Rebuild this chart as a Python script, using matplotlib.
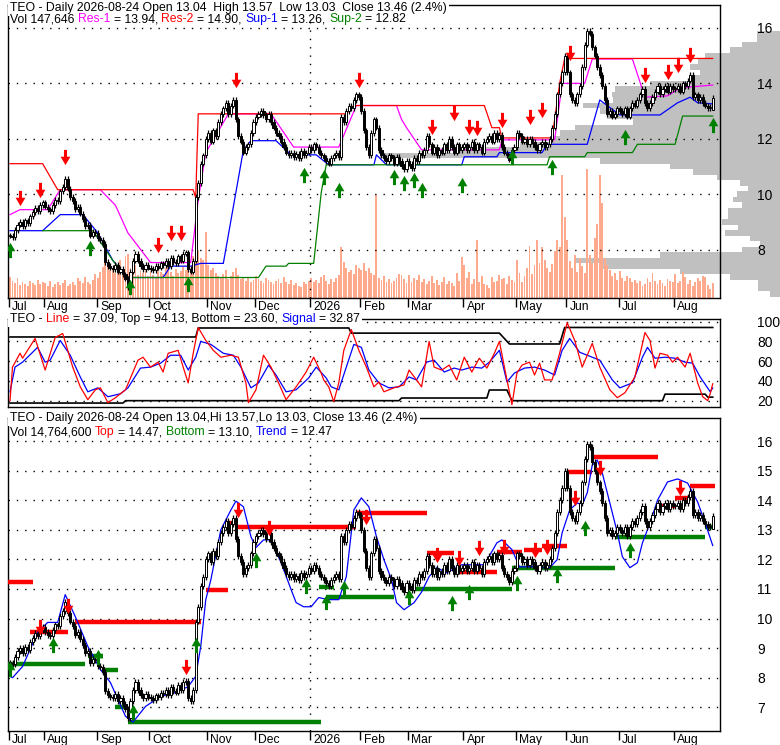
import numpy as np
import pandas as pd
import matplotlib
matplotlib.use("Agg")
import matplotlib.pyplot as plt
from matplotlib.path import Path
from matplotlib.transforms import ScaledTranslation

plt.rcParams['font.family'] = ['Liberation Sans', 'DejaVu Sans']

# ---- daily closes, one list per month ----
jul25 = [8.50, 8.45, 8.70, 8.90, 9.00, 8.85, 9.05, 8.95, 9.20, 9.35, 9.50, 9.40, 9.60, 9.70]
aug25 = [9.55, 9.45, 9.40, 9.60, 9.80, 9.75, 10.10, 10.25, 10.55, 10.20, 9.90, 9.75, 9.45, 9.55,
         9.30, 9.10, 8.85, 8.90, 8.50, 8.65, 8.60]
sep25 = [8.40, 8.35, 8.20, 7.55, 7.40, 7.35, 7.30, 7.45, 7.20, 7.30, 7.10, 6.95, 6.65, 7.20,
         7.60, 7.85, 7.60, 7.40, 7.30, 7.45, 7.35]
oct25 = [7.30, 7.25, 7.40, 7.35, 7.50, 7.45, 7.60, 7.40, 7.70, 7.55, 7.50, 7.75, 7.60, 7.85,
         7.90, 7.30, 7.20, 7.60, 9.90, 10.40, 11.10, 11.40, 12.00]
nov25 = [12.20, 11.90, 12.30, 12.10, 12.60, 12.90, 13.10, 13.30, 12.90, 13.20, 13.40, 12.70,
         12.10, 11.90, 11.50, 11.70, 11.80, 12.20, 12.60]
dec25 = [12.80, 12.90, 13.00, 12.85, 12.70, 12.90, 12.60, 12.40, 12.20, 12.10, 11.90, 11.70,
         11.50, 11.40, 11.50, 11.35, 11.45, 11.30, 11.55, 11.40, 11.50, 11.70]
jan26 = [11.60, 11.80, 11.70, 11.50, 11.40, 11.30, 11.20, 11.10, 11.30, 11.40, 11.50, 11.35,
         12.80, 12.60, 13.00, 13.20, 13.10, 13.40, 13.60, 13.50]
feb26 = [13.00, 12.30, 11.70, 11.40, 12.20, 12.70, 12.40, 11.60, 11.40, 11.30, 11.20, 11.40,
         11.30, 11.10, 11.35, 11.20, 11.00, 10.90, 11.20]
mar26 = [11.10, 10.95, 11.30, 11.20, 11.50, 11.40, 11.60, 12.10, 11.80, 11.50, 11.70, 11.40,
         11.60, 11.50, 11.80, 11.60, 12.00, 11.70, 11.50, 11.80, 11.60, 11.70]
apr26 = [11.80, 11.60, 11.70, 11.90, 11.60, 11.80, 11.70, 11.50, 11.90, 12.00, 12.10, 11.90,
         12.20, 12.00, 12.15, 11.70, 11.50, 11.40, 11.25, 11.60, 11.70]
may26 = [12.20, 12.10, 11.90, 12.00, 11.80, 12.00, 11.90, 11.70, 11.60, 11.80, 11.90, 11.70,
         11.80, 12.00, 12.40, 12.90, 13.60, 14.00, 14.40, 15.00]
jun26 = [14.40, 13.60, 13.40, 13.30, 13.60, 13.90, 14.60, 15.40, 15.90, 15.80, 15.30, 15.00,
         14.60, 14.30, 13.90, 13.40, 12.90, 13.00, 12.80, 12.90, 13.10]
jul26 = [13.00, 12.90, 13.10, 12.80, 13.10, 13.30, 13.20, 13.40, 13.60, 13.80, 13.30, 13.10,
         13.30, 13.50, 13.70, 13.90, 13.60, 13.80, 13.90, 13.70, 13.90, 13.80]
aug26 = [13.80, 13.90, 13.70, 14.00, 13.90, 14.10, 14.30, 13.50, 13.60, 13.40, 13.50, 13.30,
         13.20, 13.10, 13.14, 13.46]
last_open, last_high, last_low = 13.04, 13.57, 13.03
wick = 0.1

# ---- daily volume (thousand shares) ----
vol_jul25 = [210, 170, 150, 200, 130, 160, 140, 120, 170, 150, 130, 180, 140, 160]
vol_aug25 = [150, 120, 170, 110, 140, 160, 130, 150, 180, 120, 140, 160, 130, 200, 170, 150, 210,
             160, 140, 180, 240]
vol_sep25 = [200, 260, 310, 450, 350, 280, 300, 250, 330, 380, 290, 420, 440, 300, 260, 330, 230,
             280, 250, 310, 220]
vol_oct25 = [270, 230, 210, 280, 260, 240, 300, 350, 260, 220, 290, 250, 270, 310, 280, 360, 300,
             420, 680, 480, 400, 380, 660]
vol_nov25 = [330, 280, 300, 250, 220, 200, 240, 280, 190, 220, 260, 300, 230, 190, 210, 170, 200,
             160, 180]
vol_dec25 = [220, 190, 170, 150, 200, 180, 160, 140, 170, 190, 150, 210, 160, 140, 180, 130, 150,
             120, 110, 160, 140, 170]
vol_jan26 = [200, 160, 180, 150, 210, 230, 170, 140, 190, 160, 200, 230, 510, 360, 300, 260, 280,
             240, 330, 300]
vol_feb26 = [280, 350, 270, 300, 250, 230, 1030, 200, 180, 220, 160, 190, 150, 170, 200, 240, 230,
             190, 150]
vol_mar26 = [230, 160, 200, 180, 230, 160, 190, 140, 170, 220, 150, 180, 130, 160, 210, 140, 170,
             150, 120, 250, 170, 410]
vol_apr26 = [330, 200, 260, 140, 190, 580, 160, 220, 140, 130, 100, 210, 160, 170, 230, 190, 200,
             140, 220, 180, 160]
vol_may26 = [380, 250, 160, 220, 300, 520, 240, 330, 580, 350, 510, 380, 300, 260, 340, 470, 580,
             510, 1230, 810]
vol_jun26 = [580, 370, 300, 430, 260, 400, 320, 250, 1290, 430, 350, 600, 740, 1230, 950, 400, 330,
             280, 220, 250, 180]
vol_jul26 = [270, 200, 170, 220, 200, 160, 180, 150, 170, 120, 140, 200, 160, 250, 170, 140, 180,
             150, 120, 190, 170, 160]
vol_aug26 = [240, 150, 170, 260, 210, 140, 180, 120, 160, 200, 170, 220, 210, 130, 90, 150]

# ---- volume at price profile ----
prof_price = [6.4, 6.6, 6.8, 7.0, 7.2, 7.4, 7.6, 7.8, 8.0, 8.2, 8.4, 8.6, 8.8, 9.0, 9.2, 9.4, 9.6,
              9.8, 10.0, 10.2, 10.4, 10.6, 10.8, 11.0, 11.2, 11.4, 11.6, 11.8, 12.0, 12.2, 12.4,
              12.6, 12.8, 13.0, 13.2, 13.4, 13.6, 13.8, 14.0, 14.2, 14.4, 14.6, 14.8, 15.0, 15.2,
              15.4, 15.6, 15.8]
prof_vol = [10, 22, 22, 50, 100, 180, 205, 120, 38, 20, 30, 55, 42, 58, 52, 52, 38, 47, 43, 32,
            40, 63, 87, 110, 180, 400, 320, 260, 230, 220, 205, 147, 173, 180, 197, 167, 168, 165,
            130, 87, 80, 90, 82, 75, 50, 38, 23, 23]

# ---- support / resistance lines (bar index, price) ----
res1_x = [0, 4, 15, 20, 36, 42, 47, 56, 72, 75, 78, 87, 104, 113, 131, 138, 154, 156, 158, 164,
          195, 196, 217, 220, 229, 232, 248, 253, 262, 267, 280]
res1_y = [9.26, 9.44, 9.44, 10.16, 10.16, 9.6, 8.6, 7.53, 7.53, 9.8, 11.5, 12.9, 12.9, 11.7, 11.7,
          13.2, 13.2, 12.7, 12.4, 11.6, 11.6, 11.96, 11.96, 14.0, 14.0, 14.88, 14.88, 13.5, 13.55,
          13.84, 13.94]
res2_x = [0, 13, 19, 73, 74, 75, 134, 137, 189, 192, 195, 196, 216, 219, 221, 280]
res2_y = [11.1, 11.1, 10.16, 10.16, 9.87, 12.9, 12.9, 13.2, 13.2, 12.4, 12.4, 12.03, 12.03, 14.0,
          14.9, 14.9]
sup1_x = [0, 13, 20, 29, 35, 41, 47, 61, 64, 72, 76, 85, 93, 96, 106, 112, 122, 127, 145, 146,
          150, 180, 181, 194, 195, 212, 214, 230, 235, 243, 259, 266, 271, 274, 280]
sup1_y = [8.68, 8.68, 9.26, 9.26, 8.6, 7.6, 6.99, 6.99, 7.4, 7.4, 7.5, 7.5, 11.6, 11.93, 11.93,
          11.42, 11.42, 11.06, 11.06, 11.42, 11.06, 11.06, 11.35, 11.35, 11.5, 11.5, 11.8, 11.8,
          13.4, 12.86, 12.86, 13.3, 13.5, 13.3, 13.26]
sup2_x = [13, 33, 41, 47, 99, 102, 110, 111, 121, 124, 126, 214, 215, 229, 230, 248, 250, 265,
          268, 280]
sup2_y = [8.68, 8.68, 7.6, 6.99, 6.99, 7.4, 7.4, 7.5, 7.5, 10.05, 11.06, 11.06, 11.35, 11.35,
          11.5, 11.5, 11.8, 11.8, 12.82, 12.82]

top_dn_x = [4, 12, 22, 59, 64, 68, 90, 139, 168, 177, 183, 186, 196, 207, 212, 223, 253, 262,
            266, 271]
top_dn_y = [9.87, 10.16, 11.35, 8.18, 8.61, 8.61, 14.13, 14.13, 12.43, 12.94, 12.43, 12.4, 12.68,
            12.79, 13.05, 15.1, 14.3, 14.4, 14.67, 15.03]
top_up_x = [0, 32, 48, 71, 117, 125, 131, 153, 157, 161, 164, 180, 200, 216, 245, 280]
top_up_y = [8.0, 8.04, 6.63, 6.74, 10.7, 10.63, 10.16, 10.63, 10.41, 10.52, 10.16, 10.34, 11.35,
            10.99, 12.07, 12.5]

# ---- oscillator panel ----
line_x = [0, 1, 4, 5, 10, 14, 18, 21, 25, 28, 31, 34, 36, 39, 42, 46, 51, 53, 56, 59, 61, 63, 67,
          69, 71, 73, 75, 78, 81, 84, 88, 91, 94, 95, 98, 101, 104, 107, 110, 114, 118, 121, 124,
          125, 127, 129, 131, 133, 136, 139, 142, 145, 147, 149, 153, 157, 159, 162, 164, 167,
          169, 172, 175, 178, 181, 184, 187, 190, 193, 195, 197, 200, 202, 204, 207, 209, 211,
          213, 216, 219, 222, 225, 228, 232, 235, 239, 242, 245, 249, 253, 255, 257, 259, 262,
          264, 266, 269, 271, 274, 276, 278, 279, 280]
line_y = [20, 54, 68, 63, 83, 51, 84, 88, 54, 34, 21, 31, 33, 18, 23, 31, 61, 64, 54, 59, 49, 68,
          71, 54, 38, 68, 94, 81, 71, 64, 66, 64, 38, 18, 31, 66, 54, 38, 21, 34, 49, 64, 48, 41,
          34, 19, 38, 71, 92, 71, 54, 34, 39, 29, 33, 36, 51, 41, 34, 80, 54, 51, 56, 41, 64, 49,
          63, 53, 68, 80, 54, 16, 48, 56, 59, 46, 58, 41, 41, 68, 99, 81, 54, 78, 54, 31, 23, 28,
          44, 89, 81, 53, 68, 66, 59, 64, 54, 68, 38, 24, 20, 27, 37.09]
sig_x = [0, 2, 5, 11, 14, 16, 20, 24, 28, 31, 35, 39, 44, 47, 52, 56, 60, 64, 68, 71, 74, 76, 80,
         85, 89, 92, 96, 99, 103, 106, 110, 114, 119, 122, 126, 128, 131, 134, 137, 140, 143, 147,
         151, 155, 159, 162, 166, 169, 173, 177, 180, 184, 188, 191, 195, 198, 201, 205, 209, 213,
         217, 220, 223, 227, 232, 235, 240, 243, 248, 252, 254, 257, 261, 265, 269, 272, 275, 279,
         280]
sig_y = [29, 54, 59, 74, 59, 61, 81, 66, 44, 29, 33, 24, 27, 33, 53, 54, 58, 66, 66, 51, 64, 80,
         77, 68, 66, 54, 33, 38, 56, 46, 29, 31, 43, 54, 43, 34, 31, 54, 77, 74, 51, 38, 33, 34,
         44, 41, 59, 61, 49, 53, 51, 54, 53, 59, 71, 39, 48, 53, 54, 51, 46, 71, 83, 69, 64, 61,
         41, 33, 38, 64, 74, 63, 64, 63, 59, 58, 44, 29, 32.87]
osc_top_x = [0, 74, 75, 135, 136, 195, 199, 219, 221, 280]
osc_top_y = [84.5, 84.5, 93.6, 93.6, 88.4, 88.4, 77.4, 77.4, 94.13, 94.13]
osc_bot_x = [0, 45, 46, 155, 156, 190, 191, 198, 200, 260, 261, 277, 278, 280]
osc_bot_y = [17.6, 17.6, 20, 20, 22.7, 22.7, 30.8, 30.8, 20, 20, 26.6, 26.6, 23.6, 23.6]

# ---- bottom panel: trend, top/bottom levels, arrows ----
trend_x = [0, 1, 5, 11, 15, 19, 22, 26, 31, 36, 40, 46, 49, 54, 60, 66, 71, 74, 76, 78, 80, 84,
           88, 90, 93, 96, 98, 101, 104, 108, 112, 114, 117, 120, 123, 127, 131, 134, 137, 140,
           143, 146, 149, 152, 154, 157, 161, 164, 167, 170, 174, 180, 185, 189, 194, 196, 200,
           203, 208, 212, 215, 218, 220, 223, 226, 228, 230, 232, 234, 236, 239, 242, 244, 247,
           250, 252, 255, 258, 262, 266, 270, 274, 277, 280]
trend_y = [8.05, 8.0, 8.38, 9.53, 9.87, 9.87, 10.81, 10.07, 9.06, 8.28, 7.84, 6.7, 6.5, 7.03,
           7.37, 7.5, 7.7, 8.05, 9.06, 10.64, 11.3, 13.0, 13.67, 13.97, 13.78, 12.77, 12.4, 12.66,
           12.66, 11.89, 10.98, 10.54, 10.4, 10.4, 10.71, 10.64, 10.64, 11.42, 13.67, 14.08, 13.78,
           12.77, 11.99, 11.32, 10.54, 10.3, 10.54, 10.9, 11.42, 11.72, 11.55, 11.82, 11.82, 11.82,
           12.56, 12.66, 12.33, 11.75, 11.75, 11.72, 11.72, 11.99, 12.9, 13.67, 13.91, 13.84,
           14.25, 15.19, 15.36, 14.92, 13.91, 12.9, 12.09, 11.72, 11.89, 12.56, 13.23, 14.0,
           14.62, 14.72, 14.58, 13.94, 13.23, 12.47]
top_start = [-1, 8, 26, 78, 87, 91, 138, 166, 177, 194, 205, 212, 222, 232, 258, 265, 271]
top_end = [9, 23, 76, 87, 91, 138, 166, 177, 194, 204, 212, 222, 232, 258, 265, 270, 281]
top_level = [11.25, 9.53, 9.9, 10.98, 13.23, 13.1, 13.57, 12.22, 11.58, 12.26, 12.33, 12.46,
             14.95, 15.46, 13.8, 14.07, 14.47]
bot_start = [-1, 31, 37, 42, 47, 123, 126, 160, 200, 241, 277]
bot_end = [30, 37, 43, 46, 124, 129, 153, 200, 241, 277, 281]
bot_level = [8.45, 8.75, 8.25, 7.0, 6.5, 11.08, 10.74, 11.0, 11.72, 12.76, 13.1]
bot_dn_x = [12, 23, 70, 91, 103, 142, 170, 179, 187, 197, 209, 214, 225, 235, 267]
bot_dn_y = [9.73, 10.41, 8.35, 13.67, 13.07, 13.44, 12.16, 12.05, 12.39, 12.43, 12.33, 12.43,
            14.08, 15.09, 14.42]
bot_up_x = [0, 17, 35, 49, 74, 98, 118, 126, 133, 159, 176, 183, 202, 218, 229, 247]
bot_up_y = [8.28, 9.12, 8.69, 6.83, 9.12, 11.99, 11.1, 10.57, 11.03, 10.74, 10.54, 10.91, 11.21,
            11.48, 13.07, 12.33]

holidays = ['2025-09-01', '2025-11-27', '2025-12-25', '2026-01-01', '2026-01-19',
            '2026-02-16', '2026-04-03', '2026-05-25', '2026-06-19', '2026-07-03']

RED, GREEN, BLUE, MAG = '#FF0000', '#008000', '#0000FF', '#FF00FF'
VOLC = '#FFAA8C'

days = pd.bdate_range('2025-07-14', '2026-08-24')
days = days[~days.isin(pd.to_datetime(holidays))]
closes = np.array(jul25 + aug25 + sep25 + oct25 + nov25 + dec25 + jan26 + feb26 + mar26 + apr26
                  + may26 + jun26 + jul26 + aug26)
volume = np.array(vol_jul25 + vol_aug25 + vol_sep25 + vol_oct25 + vol_nov25 + vol_dec25
                  + vol_jan26 + vol_feb26 + vol_mar26 + vol_apr26 + vol_may26 + vol_jun26
                  + vol_jul26 + vol_aug26)
n = len(closes)
days = days[:n]
idx = np.arange(n)
opens = np.r_[closes[0], closes[:-1]]
opens[-1] = last_open
highs = np.maximum(opens, closes) + wick
lows = np.minimum(opens, closes) - wick
highs[-1], lows[-1] = last_high, last_low

month_start = np.r_[0, np.nonzero(np.diff(days.month))[0] + 1]
month_lab = ['2026' if days[i].month == 1 else days[i].strftime('%b') for i in month_start]
jan_pos = month_start[[i for i, m in enumerate(month_lab) if m == '2026'][0]] - 0.5

W, H = 780, 745
fig = plt.figure(figsize=(W / 100, H / 100), dpi=100)


def frac(x0, y0, x1, y1):
    return [x0 / W, 1 - y1 / H, (x1 - x0) / W, (y1 - y0) / H]


up_path = Path([(-0.1, -0.5), (0.1, -0.5), (0.1, -0.05), (0.32, -0.05), (0, 0.5), (-0.32, -0.05),
                (-0.1, -0.05), (-0.1, -0.5)], closed=True)
dn_path = Path(up_path.vertices * [1, -1], closed=True)

dots = (0, (1, 5))
XL = (-0.8, 282.9)


def style_price_axes(ax, yticks, labels_bottom):
    ax.set_xlim(*XL)
    ax.set_facecolor('none')
    ax.yaxis.tick_right()
    ax.set_yticks(yticks)
    ax.set_yticklabels([str(v) for v in yticks])
    ax.tick_params(axis='y', length=0, pad=27, labelsize=10)
    for v in yticks:
        ax.axhline(v, color='black', lw=1, ls=dots, zorder=2)
    ax.axvline(jan_pos, color='black', lw=1, ls=dots, zorder=2)
    ax.set_xticks(month_start - 0.5)
    if labels_bottom:
        ax.set_xticklabels(month_lab)
        ax.tick_params(axis='x', direction='out', length=6.5, width=1, pad=-4.3, labelsize=8.7)
        off = ScaledTranslation(2.5 / 72, 0, fig.dpi_scale_trans)
        for lab in ax.get_xticklabels():
            lab.set_ha('left')
            lab.set_transform(lab.get_transform() + off)
    else:
        ax.tick_params(axis='x', length=0, labelbottom=False)
    for s in ax.spines.values():
        s.set_linewidth(1)


def candles(ax):
    up = closes >= opens
    ax.vlines(idx, lows, highs, color='black', lw=0.9, zorder=5)
    body_lo = np.minimum(opens, closes)
    body_h = np.maximum(np.abs(closes - opens), 0.03)
    ax.bar(idx, body_h, bottom=body_lo, width=0.85, color=np.where(up, 'white', 'black'),
           edgecolor='black', linewidth=0.7, zorder=6)


def arrows(ax, ux, uy, dx, dy):
    ax.plot(ux, uy, ls='none', marker=up_path, ms=11, color=GREEN, mew=0, zorder=7)
    ax.plot(dx, dy, ls='none', marker=dn_path, ms=11, color=RED, mew=0, zorder=7)


def color_text(ax, x, y, pieces, bg=False):
    kw = dict(fontsize=8.8)
    if bg:
        kw['bbox'] = dict(facecolor='white', edgecolor='none', pad=1.6)
    t = None
    for s, c in pieces:
        gap = (len(s) - len(s.lstrip(' '))) * 2.45
        s = s.lstrip(' ')
        if t is None:
            t = ax.text(x, y, s, color=c, transform=ax.transAxes, va='center', ha='left',
                        zorder=10, **kw)
        else:
            t = ax.annotate(s, xy=(1, 0), xycoords=t, xytext=(gap, 0),
                            textcoords='offset points', color=c, va='bottom', ha='left',
                            zorder=10, **kw)
    return t


# ---------------- top panel ----------------
top_rect = (8, 5, 720, 298)
ax_prof = fig.add_axes(frac(8, 5, 780, 298), zorder=0)
ax_prof.set_xlim(772, 0)
ax_prof.set_ylim(6.25, 16.83)
ax_prof.barh(prof_price, prof_vol, height=0.2, left=0, color='#C0C0C0', linewidth=0)
ax_prof.axis('off')

ax_vol = fig.add_axes(frac(*top_rect), zorder=1)
ax_vol.bar(idx, volume, width=0.75, color=VOLC, linewidth=0)
ax_vol.set_xlim(*XL)
ax_vol.set_ylim(0, 2930)
ax_vol.axis('off')

ax1 = fig.add_axes(frac(*top_rect), zorder=2)
ax1.set_ylim(6.25, 16.83)
style_price_axes(ax1, [8, 10, 12, 14, 16], True)
ax1.plot(res1_x, res1_y, color=MAG, lw=0.9, zorder=3)
ax1.plot(res2_x, res2_y, color=RED, lw=0.9, zorder=3)
ax1.plot(sup1_x, sup1_y, color=BLUE, lw=0.9, zorder=3)
ax1.plot(sup2_x, sup2_y, color=GREEN, lw=0.9, zorder=3)
candles(ax1)
arrows(ax1, top_up_x, top_up_y, top_dn_x, top_dn_y)
color_text(ax1, 0.003, 0.99, [('TEO - Daily 2026-08-24 Open 13.04  High 13.57  Low 13.03  '
                               'Close 13.46 (2.4%)', 'black')], bg=True)
color_text(ax1, 0.003, 0.951, [('Vol 147,646', 'black'), (' Res-1', MAG), (' = 13.94,', 'black'),
                               (' Res-2', RED), (' = 14.90,', 'black'), (' Sup-1', BLUE),
                               (' = 13.26,', 'black'), (' Sup-2', GREEN), (' = 12.82', 'black')])

# ---------------- oscillator panel ----------------
ax2 = fig.add_axes(frac(8, 319, 720, 407))
ax2.set_ylim(13.6, 102.7)
style_price_axes(ax2, [20, 40, 60, 80, 100], False)
ax2.plot(osc_top_x, osc_top_y, color='black', lw=1.2, zorder=3)
ax2.plot(osc_bot_x, osc_bot_y, color='black', lw=1.2, zorder=3)
ax2.plot(sig_x, sig_y, color=BLUE, lw=0.9, zorder=4)
ax2.plot(line_x, line_y, color=RED, lw=0.9, zorder=5)
color_text(ax2, 0.003, 1.0, [('TEO -', 'black'), (' Line', RED), (' = 37.09, Top = 94.13, '
                             'Bottom = 23.60,', 'black'), (' Signal', BLUE),
                             (' = 32.87', 'black')], bg=True)

# ---------------- bottom panel ----------------
ax3 = fig.add_axes(frac(8, 418, 720, 731))
ax3.set_ylim(6.2, 16.78)
style_price_axes(ax3, list(range(7, 17)), True)
ax3.hlines(top_level, top_start, top_end, color=RED, lw=3.2, zorder=3)
ax3.hlines(bot_level, bot_start, bot_end, color=GREEN, lw=3.2, zorder=3)
ax3.plot(trend_x, trend_y, color=BLUE, lw=0.9, zorder=4)
candles(ax3)
arrows(ax3, bot_up_x, bot_up_y, bot_dn_x, bot_dn_y)
color_text(ax3, 0.003, 1.0, [('TEO - Daily 2026-08-24 Open 13.04,Hi 13.57,Lo 13.03, '
                              'Close 13.46 (2.4%)', 'black')], bg=True)
color_text(ax3, 0.003, 0.955, [('Vol 14,764,600', 'black'), (' Top', RED),
                               (' = 14.47,', 'black'), (' Bottom', GREEN),
                               (' = 13.10,', 'black'), (' Trend', BLUE),
                               (' = 12.47', 'black')])

fig.savefig('out.png', dpi=100)
